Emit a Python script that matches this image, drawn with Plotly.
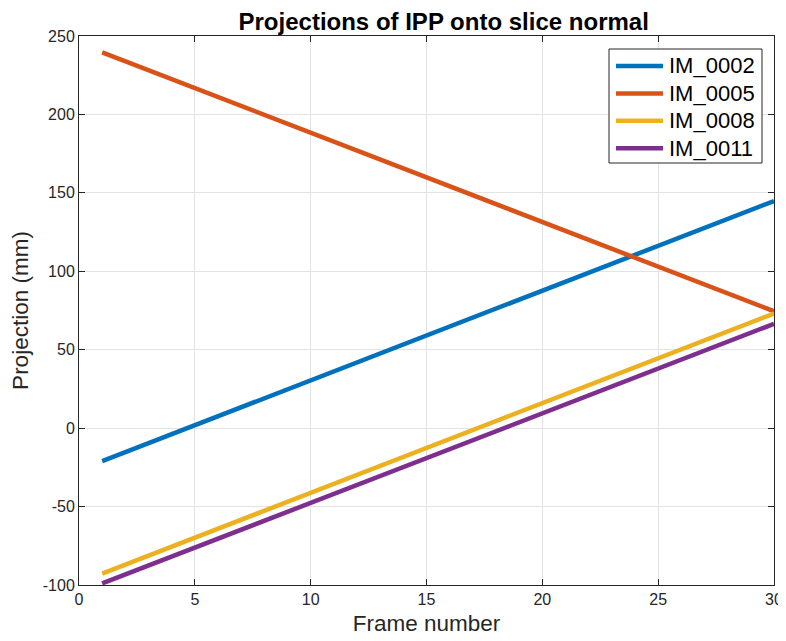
import plotly.graph_objects as go

frames = [1, 30]
names = ["IM_0002", "IM_0005", "IM_0008", "IM_0011"]
im_0002 = [-21, 144.8]
im_0005 = [239.6, 74.5]
im_0008 = [-92.7, 73.1]
im_0011 = [-99, 66.5]
series = [im_0002, im_0005, im_0008, im_0011]
colors = ["#0072BD", "#D95319", "#EDB120", "#7E2F8E"]

x_ticks = [0, 5, 10, 15, 20, 25, 30]
y_ticks = [-100, -50, 0, 50, 100, 150, 200, 250]
y_tick_labels = ["-100", "-50", "0", "50", "100", "150", "200", "250"]

fig = go.Figure()
for n, s, c in zip(names, series, colors):
    fig.add_trace(go.Scatter(x=frames, y=s, mode="lines", name=n,
                             line=dict(color=c, width=4.5), showlegend=False))

font_family = "Liberation Sans, Arial, Helvetica, sans-serif"
axis_common = dict(showline=True, linecolor="#262626", linewidth=1, mirror="ticks",
                   ticks="inside", ticklen=6, tickcolor="#262626",
                   showgrid=True, gridcolor="#e3e3e3", gridwidth=1, zeroline=False,
                   automargin=False,
                   tickfont=dict(size=16, color="#262626", family=font_family))

# plot area in page pixels: x 79..774, y 36..585
PX0, PX1, PY0, PY1 = 79.0, 774.0, 36.0, 585.0
def px(x):
    return (x - PX0) / (PX1 - PX0)
def py(y):
    return (PY1 - y) / (PY1 - PY0)

# custom legend (MATLAB style)
shapes = [dict(type="rect", xref="paper", yref="paper",
               x0=px(609), x1=px(762), y0=py(163), y1=py(49),
               line=dict(color="#262626", width=1), fillcolor="white", layer="above")]
annotations = []
row0, row_gap = 66.0, 27.4
for i, (n, c) in enumerate(zip(names, colors)):
    yy = py(row0 + i * row_gap)
    shapes.append(dict(type="line", xref="paper", yref="paper",
                       x0=px(616), x1=px(663), y0=yy, y1=yy,
                       line=dict(color=c, width=4.5), layer="above"))
    annotations.append(dict(xref="paper", yref="paper", x=px(667), y=yy,
                            xanchor="left", yanchor="middle", text=n, showarrow=False,
                            font=dict(size=22, color="black", family=font_family)))

fig.update_layout(
    width=778, height=633,
    margin=dict(l=71, r=12, t=28, b=56),
    paper_bgcolor="white", plot_bgcolor="white",
    font=dict(family=font_family, color="#262626"),
    title=dict(text="<b>Projections of IPP onto slice normal</b>", x=0.56, xanchor="center",
               xref="container", yref="container",
               y=0.979, yanchor="middle", font=dict(size=24, color="black")),
    xaxis=dict(range=[0, 30], tickvals=x_ticks,
               title=dict(text="Frame number", font=dict(size=22.5, color="#262626"), standoff=8),
               **axis_common),
    yaxis=dict(range=[-100, 250], tickvals=y_ticks, ticktext=y_tick_labels,
               title=dict(text="Projection (mm)", font=dict(size=22.5, color="#262626"), standoff=10),
               **axis_common),
    shapes=shapes,
    annotations=annotations,
    showlegend=False,
)

fig.write_html("out.html")
